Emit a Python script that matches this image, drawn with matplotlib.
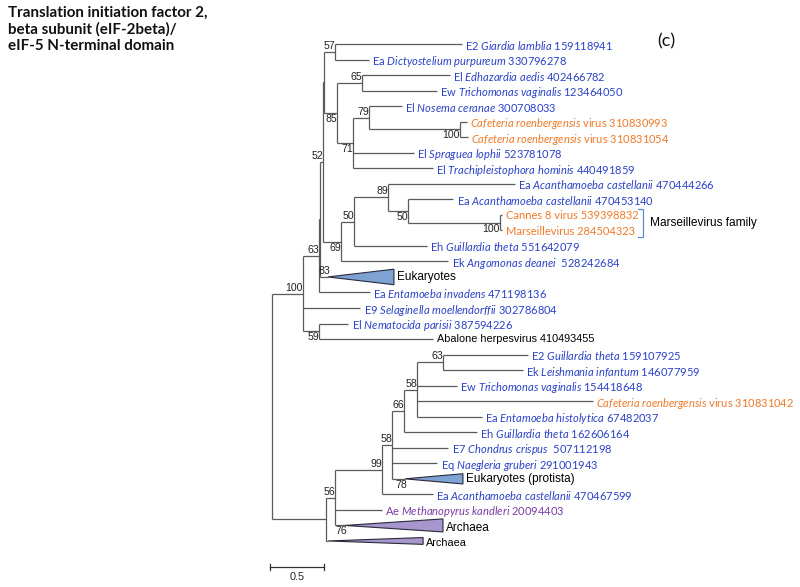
import matplotlib
matplotlib.use("Agg")
import matplotlib.pyplot as plt
from matplotlib.patches import Polygon

# 内部节点：名称、父节点、枝长（替换/位点）、bootstrap 值
node_names = ["root", "n100", "n63", "nT", "n52", "nQ", "n57", "n85", "n65", "n71",
              "n79", "nCaf", "n69", "n50a", "n89", "n50b", "nCM", "n59",
              "nB", "n56", "n99", "n58b", "n66", "n58a", "n63b"]
node_parent = [None, "root", "n100", "n63", "nT", "n52", "nQ", "nQ", "n85", "n85",
               "n71", "n79", "n52", "n69", "n50a", "n89", "n50b", "n100",
               "root", "nB", "n56", "n99", "n58b", "n66", "n58a"]
node_length = [0.0, 0.287, 0.148, 0.009, 0.028, 0.009, 0.102, 0.120, 0.231, 0.148,
               0.148, 0.843, 0.167, 0.120, 0.315, 0.185, 0.852, 0.148,
               0.500, 0.083, 0.435, 0.093, 0.111, 0.120, 0.241]
node_boot = [None, 100, 63, None, 52, None, 57, 85, 65, 71,
             79, 100, 69, 50, 89, 50, 100, 59,
             None, 56, 99, 58, 66, 58, 63]

# 叶节点（自上而下）
leaf_prefix = ["E2", "Ea", "El", "Ew", "El", "", "", "El", "El", "Ea",
               "Ea", "Cannes 8 virus 539398832", "Marseillevirus 284504323", "Eh", "Ek",
               "Eukaryotes", "Ea", "E9", "El", "Abalone herpesvirus 410493455",
               "E2", "Ek", "Ew", "", "Ea", "Eh", "E7", "Eq",
               "Eukaryotes (protista)", "Ea", "Ae", "Archaea", "Archaea"]
leaf_species = ["Giardia lamblia", "Dictyostelium purpureum", "Edhazardia aedis",
                "Trichomonas vaginalis", "Nosema ceranae", "Cafeteria roenbergensis",
                "Cafeteria roenbergensis", "Spraguea lophii", "Trachipleistophora hominis",
                "Acanthamoeba castellanii", "Acanthamoeba castellanii", "", "",
                "Guillardia theta", "Angomonas deanei", "", "Entamoeba invadens",
                "Selaginella moellendorffii", "Nematocida parisii", "",
                "Guillardia theta", "Leishmania infantum", "Trichomonas vaginalis",
                "Cafeteria roenbergensis", "Entamoeba histolytica", "Guillardia theta",
                "Chondrus crispus", "Naegleria gruberi", "", "Acanthamoeba castellanii",
                "Methanopyrus kandleri", "", ""]
leaf_suffix = ["159118941", "330796278", "402466782", "123464050", "300708033",
               "virus 310830993", "virus 310831054", "523781078", "440491859",
               "470444266", "470453140", "", "", "551642079", " 528242684", "",
               "471198136", "302786804", "387594226", "", "159107925", "146077959",
               "154418648", "virus 310831042", "67482037", "162606164", " 507112198",
               "291001943", "", "470467599", "20094403", "", ""]
leaf_group = ["euk", "euk", "euk", "euk", "euk", "virus", "virus", "euk", "euk", "euk",
              "euk", "virus", "virus", "euk", "euk", "clade_e", "euk", "euk", "euk",
              "other", "euk", "euk", "euk", "virus", "euk", "euk", "euk", "euk",
              "clade_e", "euk", "arch", "clade_a", "clade_a"]
leaf_parent = ["n57", "n57", "n65", "n65", "n79", "nCaf", "nCaf", "n71", "n71", "n89",
               "n50b", "nCM", "nCM", "n50a", "n69", "nT", "n63", "n100", "n59", "n59",
               "n63b", "n63b", "n58a", "n58a", "n58a", "n66", "n58b", "n58b",
               "n58b", "n99", "n56", "n56", "nB"]
leaf_length = [1.176, 0.315, 0.815, 0.694, 0.306, 0.065, 0.074, 0.565, 0.741, 1.176,
               0.417, 0.019, 0.019, 0.676, 0.991, 0.074, 0.472, 0.528, 0.269, 1.056,
               0.787, 0.741, 0.370, 1.630, 0.602, 0.676, 0.519, 0.417,
               0.120, 0.472, 0.435, 0.093, 0.019]
# 折叠分支（三角形）的深度与 bootstrap
clade_depth = {15: 0.611, 28: 0.537, 31: 0.907, 32: 0.880}
clade_boot = {15: 83, 28: 78, 31: 76}

# 样式
ROOT_PX, PX_UNIT = 272, 108.0
ROW0_PX, ROW_PX = 44, 15.53
W, H = 800, 587
colors = {"euk": "#2b42c8", "virus": "#f07a2a", "arch": "#7a3ba6", "other": "black",
          "clade_e": "black", "clade_a": "black"}
tri_fill = {15: "#7ea2d3", 28: "#7ea2d3", 31: "#a796cb", 32: "#a796cb"}
tri_half = {15: 0.5, 28: 0.33, 31: 0.42, 32: 0.22}
tri_font = {15: 8.5, 28: 8.5, 31: 8.5, 32: 7.8}
tri_dy = {15: 0, 28: 0, 31: -3, 32: -2}
boot_below = {"n85", "n71", "nCaf", "n69", "n50b", "nCM", "n59", 28, 31}
LINE = "#5a5a5a"
LFONT = "Lato"
AFONT = "Liberation Sans"
LSIZE = 8.0
BSIZE = 7.6

plt.rcParams["font.family"] = ["Liberation Sans", "DejaVu Sans"]
plt.rcParams["mathtext.fontset"] = "custom"
plt.rcParams["mathtext.it"] = "Lato:italic"
plt.rcParams["mathtext.rm"] = "Lato"

fig = plt.figure(figsize=(W / 100, H / 100), dpi=100)
ax = fig.add_axes([0, 0, 1, 1])
ax.set_xlim(-ROOT_PX / PX_UNIT, (W - ROOT_PX) / PX_UNIT)
ax.set_ylim((H - ROW0_PX) / ROW_PX, -ROW0_PX / ROW_PX)
ax.axis("off")

# 计算节点坐标
xpos, ypos, kids = {}, {}, {n: [] for n in node_names}
for n, p, l in zip(node_names, node_parent, node_length):
    xpos[n] = 0.0 if p is None else xpos[p] + l
    if p is not None:
        kids[p].append(n)
for i, (p, l) in enumerate(zip(leaf_parent, leaf_length)):
    xpos[i] = xpos[p] + l
    ypos[i] = i
    kids[p].append(i)


def node_y(n):
    if n not in ypos:
        ys = [node_y(c) for c in kids[n]]
        ypos[n] = (min(ys) + max(ys)) / 2
    return ypos[n]


node_y("root")
parent_of = dict(zip(node_names, node_parent))
parent_of.update({i: p for i, p in enumerate(leaf_parent)})

# 枝
for n, p in parent_of.items():
    if p is None:
        continue
    ax.plot([xpos[p], xpos[n]], [ypos[n], ypos[n]], color=LINE, lw=0.9,
            solid_capstyle="butt")
for n in node_names:
    ys = [ypos[c] for c in kids[n]]
    ax.plot([xpos[n], xpos[n]], [min(ys), max(ys)], color=LINE, lw=0.9,
            solid_capstyle="butt")


def boot_label(key, value, x, y):
    below = key in boot_below
    ax.annotate(str(value), xy=(x, y), xytext=(0, -1 if below else 1),
                textcoords="offset pixels", ha="right",
                va="top" if below else "bottom", fontsize=BSIZE,
                family=AFONT, color="#222222")


for n, b in zip(node_names, node_boot):
    if b is not None:
        boot_label(n, b, xpos[n], ypos[n])

# 叶节点与折叠三角形
for i in range(len(leaf_prefix)):
    x, y = xpos[i], ypos[i]
    grp = leaf_group[i]
    c = colors[grp]
    if i in clade_depth:
        d, h = clade_depth[i], tri_half[i]
        tri = Polygon([(x, y), (x + d, y - h), (x + d, y + h)], closed=True,
                      facecolor=tri_fill[i], edgecolor="#2a2a3a", lw=0.8)
        ax.add_patch(tri)
        ax.annotate(leaf_prefix[i], xy=(x + d, y), xytext=(3, tri_dy[i]),
                    textcoords="offset pixels", va="center", ha="left",
                    fontsize=tri_font[i], family=AFONT, color="black")
        if i in clade_boot:
            boot_label(i, clade_boot[i], x + 0.02, y)
        continue
    if grp == "other":
        ax.annotate(leaf_prefix[i], xy=(x, y), xytext=(3.5, 0),
                    textcoords="offset pixels", va="center", ha="left",
                    fontsize=7.8, family=AFONT, color=c)
        continue
    label = leaf_prefix[i]
    if leaf_species[i]:
        sp = leaf_species[i].replace(" ", r"\ ")
        label = (label + " " if label else "") + r"$\mathit{" + sp + "}$"
    if leaf_suffix[i]:
        label += " " + leaf_suffix[i]
    ax.annotate(label, xy=(x, y), xytext=(3.5, 0), textcoords="offset pixels",
                va="center_baseline", ha="left", fontsize=LSIZE, family=LFONT,
                color=c)

# Marseillevirus 科括号
bx = (643 - ROOT_PX) / PX_UNIT
tick = 5 / PX_UNIT
ax.plot([bx - tick, bx, bx, bx - tick], [10.6, 10.6, 12.4, 12.4],
        color="#5b8bd6", lw=0.9)
ax.text(bx + 7 / PX_UNIT, 11.5, "Marseillevirus family", va="center", ha="left",
        fontsize=8.6, family=AFONT, color="black")

# 标尺
sy = (567 - ROW0_PX) / ROW_PX
sx0 = -2 / PX_UNIT
ax.plot([sx0, sx0 + 0.5], [sy, sy], color="#333333", lw=0.9)
for sx in (sx0, sx0 + 0.5):
    ax.plot([sx, sx], [sy - 0.18, sy + 0.18], color="#333333", lw=0.9)
ax.text(sx0 + 0.25, sy + 0.35, "0.5", ha="center", va="top", fontsize=7.8,
        family=AFONT, color="#222222")

# 标题
fig.text(8 / W, 1 - 6 / H,
         "Translation initiation factor 2,\nbeta subunit (eIF-2beta)/\neIF-5 N-terminal domain",
         ha="left", va="top", fontsize=10.9, fontweight="bold", family=LFONT,
         linespacing=1.22, color="#111111")
fig.text(657 / W, 1 - 41 / H, "(c)", ha="left", va="center", fontsize=13,
         family=LFONT, color="#111111")

fig.savefig("out.png", dpi=100)
